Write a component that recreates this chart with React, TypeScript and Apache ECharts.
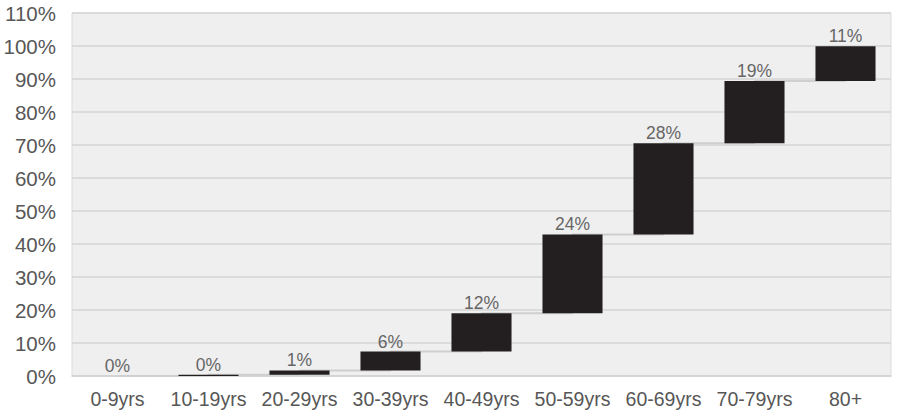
import React, { useEffect, useRef } from "react";
import * as echarts from "echarts";

const categories = ["0-9yrs", "10-19yrs", "20-29yrs", "30-39yrs", "40-49yrs", "50-59yrs", "60-69yrs", "70-79yrs", "80+"];
const shares = [0, 0.4, 1.3, 5.7, 11.6, 23.9, 27.6, 18.9, 10.5];
const yTicks = [0, 10, 20, 30, 40, 50, 60, 70, 80, 90, 100, 110];

export default function App() {
  const ref = useRef<HTMLDivElement>(null);
  useEffect(() => {
    if (!ref.current) return;
    const chart = echarts.init(ref.current, null, { renderer: "svg" });
    const bases: number[] = [];
    const tops: number[] = [];
    let acc = 0;
    shares.forEach((v) => {
      bases.push(acc);
      acc += v;
      tops.push(acc);
    });
    const font = "Liberation Sans, Arial, Helvetica, sans-serif";
    chart.setOption({
      animation: false,
      backgroundColor: "#ffffff",
      grid: {
        left: 72,
        right: 9,
        top: 13,
        bottom: 44,
        show: true,
        backgroundColor: "#efefef",
        borderColor: "#dcdcdc",
        borderWidth: 1,
      },
      xAxis: {
        type: "category",
        data: categories,
        axisTick: { show: false },
        axisLine: { show: true, lineStyle: { color: "#d2d2d2", width: 1.5 } },
        axisLabel: { color: "#575757", fontSize: 19.5, fontFamily: font, margin: 13, interval: 0 },
      },
      yAxis: {
        type: "value",
        min: yTicks[0],
        max: yTicks[yTicks.length - 1],
        interval: 10,
        axisLine: { show: false },
        axisTick: { show: false },
        splitLine: { show: true, lineStyle: { color: "#d4d4d4", width: 1.5 } },
        axisLabel: { color: "#575757", fontSize: 20.5, fontFamily: font, margin: 16, formatter: (v: number) => v + "%" },
      },
      series: [
        {
          type: "line",
          data: tops,
          step: "end",
          symbol: "none",
          z: 1,
          lineStyle: { color: "#cfcfcf", width: 2 },
        },
        {
          type: "bar",
          stack: "w",
          data: bases,
          barWidth: "66%",
          itemStyle: { color: "transparent" },
          z: 2,
          silent: true,
        },
        {
          type: "bar",
          stack: "w",
          data: shares,
          barWidth: "66%",
          z: 3,
          itemStyle: { color: "#231f20", borderWidth: 0 },
          label: {
            show: true,
            position: "top",
            distance: 1,
            color: "#666666",
            fontSize: 17.5,
            fontFamily: font,
            formatter: (p: any) => Math.round(p.value) + "%",
          },
        },
      ],
    });
    return () => chart.dispose();
  }, []);
  return <div ref={ref} style={{ position: "fixed", left: 0, top: 0, width: 900, height: 420 }} />;
}
